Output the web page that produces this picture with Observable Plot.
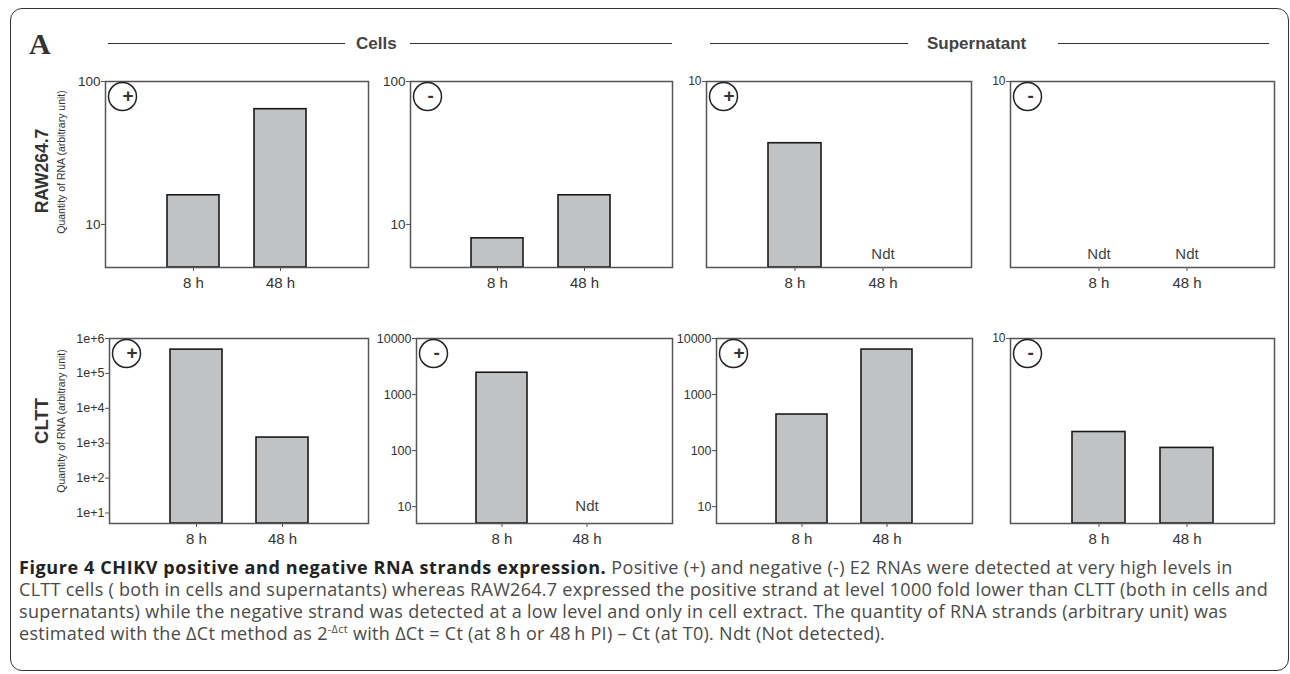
<!DOCTYPE html>
<html><head><meta charset="utf-8">
<script src="https://cdn.jsdelivr.net/npm/d3@7"></script>
<script src="https://cdn.jsdelivr.net/npm/@observablehq/plot@0.6"></script>
<style>
body{margin:0;background:#fff;width:1290px;height:674px;overflow:hidden;position:relative;font-family:"Liberation Sans",Arial,sans-serif;}
#border{position:absolute;left:10px;top:8px;width:1279px;height:663px;border:1.5px solid #333;border-radius:12px;box-sizing:border-box;}
.abs{position:absolute;}
.hline{position:absolute;height:0;border-top:1.5px solid #333;}
.hdr{position:absolute;font-weight:bold;font-size:17px;color:#444;line-height:20px;white-space:nowrap;}
.rot{position:absolute;transform:rotate(-90deg);transform-origin:center center;text-align:center;white-space:nowrap;}
#caption{position:absolute;left:19px;top:556px;font-family:"Open Sans",sans-serif;font-size:18px;line-height:22px;color:#4a4a4a;white-space:nowrap;}
#caption b{color:#222;letter-spacing:0.6px;}
#caption .l1{letter-spacing:0.33px;}
#caption .l2{letter-spacing:0.29px;}
#caption .l3{letter-spacing:0.33px;}
#caption .l4{letter-spacing:0.3px;}
#caption sup{font-size:11px;vertical-align:7px;line-height:0;}
</style></head>
<body>
<div id="border"></div>
<div class="abs" style="left:29px;top:27px;font-family:'Liberation Serif',serif;font-weight:bold;font-size:30px;color:#333;">A</div>
<div class="hline" style="left:108px;width:237px;top:43px;"></div>
<div class="hdr" style="left:356px;top:34px;">Cells</div>
<div class="hline" style="left:410px;width:262px;top:43px;"></div>
<div class="hline" style="left:710px;width:198px;top:43px;"></div>
<div class="hdr" style="left:927px;top:34px;">Supernatant</div>
<div class="hline" style="left:1058px;width:211px;top:43px;"></div>
<div id="panels"></div>
<div id="caption"><b>Figure 4 CHIKV positive and negative RNA strands expression.</b><span class="l1"> Positive (+) and negative (-) E2 RNAs were detected at very high levels in</span><br><span class="l2">CLTT cells ( both in cells and supernatants) whereas RAW264.7 expressed the positive strand at level 1000 fold lower than CLTT (both in cells and</span><br><span class="l3">supernatants) while the negative strand was detected at a low level and only in cell extract. The quantity of RNA strands (arbitrary unit) was</span><br><span class="l4">estimated with the &Delta;Ct method as 2<sup>-&Delta;ct</sup> with &Delta;Ct = Ct (at 8&#8201;h or 48&#8201;h PI) &ndash; Ct (at T0). Ndt (Not detected).</span></div>
<script>
// ---- data ----
const times = ["8 h", "48 h"];
const rowLabels = ["RAW264.7", "CLTT"];
const yLabel = "Quantity of RNA (arbitrary unit)";
const groups = ["Cells", "Supernatant"];
const signs = ["+", "-", "+", "-"];
// values per panel (null = Ndt, not detected)
const rawCellsPos = [16, 64];
const rawCellsNeg = [8, 16];
const rawSupPos = [3.7, null];
const rawSupNeg = [null, null];
const clttCellsPos = [480000, 1450];
const clttCellsNeg = [2450, null];
const clttSupPos = [440, 6350];
const clttSupNeg = [2.2, 1.7];
// y domains and ticks
const rawCellsDomain = [5, 100];
const rawCellsTicks = [10, 100];
const rawSupDomain = [0.5, 10];
const rawSupTicks = [10];
const clttCellsPosDomain = [5, 1e6];
const clttCellsPosTicks = [1e1, 1e2, 1e3, 1e4, 1e5, 1e6];
const clttOtherDomain = [5, 10000];
const clttOtherTicks = [10, 100, 1000, 10000];
const clttSupNegDomain = [0.5, 10];
const clttSupNegTicks = [10];

const plainFmt = d => String(d);
const expFmt = d => "1e+" + Math.round(Math.log10(d));

// ---- layout (frame boxes in page pixels) ----
const ML = 52, MR = 6, MT = 6, MB = 34;
const panels = [
  {vals: rawCellsPos, dom: rawCellsDomain, ticks: rawCellsTicks, fmt: plainFmt, sign: signs[0], l:105, r:368, t:81, b:267, fs:13.5, ndtDy:-13},
  {vals: rawCellsNeg, dom: rawCellsDomain, ticks: rawCellsTicks, fmt: plainFmt, sign: signs[1], l:410, r:672, t:81, b:267, fs:13.5, ndtDy:-13},
  {vals: rawSupPos, dom: rawSupDomain, ticks: rawSupTicks, fmt: plainFmt, sign: signs[2], l:706, r:971, t:81, b:267, fs:12, ndtDy:-13},
  {vals: rawSupNeg, dom: rawSupDomain, ticks: rawSupTicks, fmt: plainFmt, sign: signs[3], l:1010, r:1274, t:81, b:267, fs:12, ndtDy:-13},
  {vals: clttCellsPos, dom: clttCellsPosDomain, ticks: clttCellsPosTicks, fmt: expFmt, sign: signs[0], l:109, r:368, t:338, b:523, fs:12.5, ndtDy:-17},
  {vals: clttCellsNeg, dom: clttOtherDomain, ticks: clttOtherTicks, fmt: plainFmt, sign: signs[1], l:416, r:672, t:338, b:523, fs:12.5, ndtDy:-17},
  {vals: clttSupPos, dom: clttOtherDomain, ticks: clttOtherTicks, fmt: plainFmt, sign: signs[2], l:716, r:972, t:338, b:523, fs:12.5, ndtDy:-17},
  {vals: clttSupNeg, dom: clttSupNegDomain, ticks: clttSupNegTicks, fmt: plainFmt, sign: signs[3], l:1010, r:1274, t:338, b:523, fs:12, ndtDy:-17}
];

const host = document.getElementById("panels");
for (const p of panels) {
  const rows = times.map((t, i) => ({time: t, value: p.vals[i]}));
  const det = rows.filter(d => d.value != null);
  const ndt = rows.filter(d => d.value == null);
  const chart = Plot.plot({
    width: (p.r - p.l) + ML + MR,
    height: (p.b - p.t) + MT + MB,
    marginLeft: ML, marginRight: MR, marginTop: MT, marginBottom: MB,
    style: {fontFamily: "'Liberation Sans', Arial, sans-serif", color: "#333", background: "transparent", overflow: "visible"},
    x: {domain: times, paddingInner: 0.4, paddingOuter: 0.7, axis: null, label: null},
    y: {type: "log", domain: p.dom, axis: null, label: null},
    marks: [
      Plot.barY(det, {x: "time", y1: p.dom[0], y2: "value", fill: "#c1c2c4", stroke: "#1a1a1a", strokeWidth: 1.6}),
      Plot.text(ndt, {x: "time", frameAnchor: "bottom", lineAnchor: "middle", dy: p.ndtDy, text: () => "Ndt", fontSize: 15, fill: "#444"}),
      Plot.frame({stroke: "#555", strokeWidth: 1.5}),
      Plot.axisY({ticks: p.ticks, tickFormat: p.fmt, tickSize: 4, tickPadding: 1, fontSize: p.fs, stroke: "#555", fill: "#333", label: null}),
      Plot.axisX({tickSize: 4, tickPadding: 6, fontSize: 15, stroke: "#555", fill: "#333", label: null}),
      Plot.dot([p.sign], {frameAnchor: "top-left", dx: 17, dy: 15, r: 14, stroke: "#222", strokeWidth: 1.5, fill: "white"}),
      Plot.text([p.sign], {frameAnchor: "top-left", lineAnchor: "middle", dx: 17, dy: 14, text: d => d, fontSize: 19, fontWeight: "bold", fill: "#333"})
    ]
  });
  chart.style.position = "absolute";
  chart.style.left = (p.l - ML) + "px";
  chart.style.top = (p.t - MT) + "px";
  host.appendChild(chart);
}

// row labels
const rowCenters = [[171, 162], [421, 421]];
rowLabels.forEach((lab, i) => {
  const a = document.createElement("div");
  a.className = "rot";
  a.style.cssText += `left:${42 - 100}px;top:${rowCenters[i][0] - 11}px;width:200px;height:22px;line-height:22px;font-weight:bold;font-size:${i === 0 ? 17.5 : 18.5}px;color:#333;`;
  a.textContent = lab;
  document.body.appendChild(a);
  const b = document.createElement("div");
  b.className = "rot";
  b.style.cssText += `left:${61 - 100}px;top:${rowCenters[i][1] - 7}px;width:200px;height:14px;line-height:14px;font-size:10.5px;color:#333;`;
  b.textContent = yLabel;
  document.body.appendChild(b);
});
</script>
</body></html>
